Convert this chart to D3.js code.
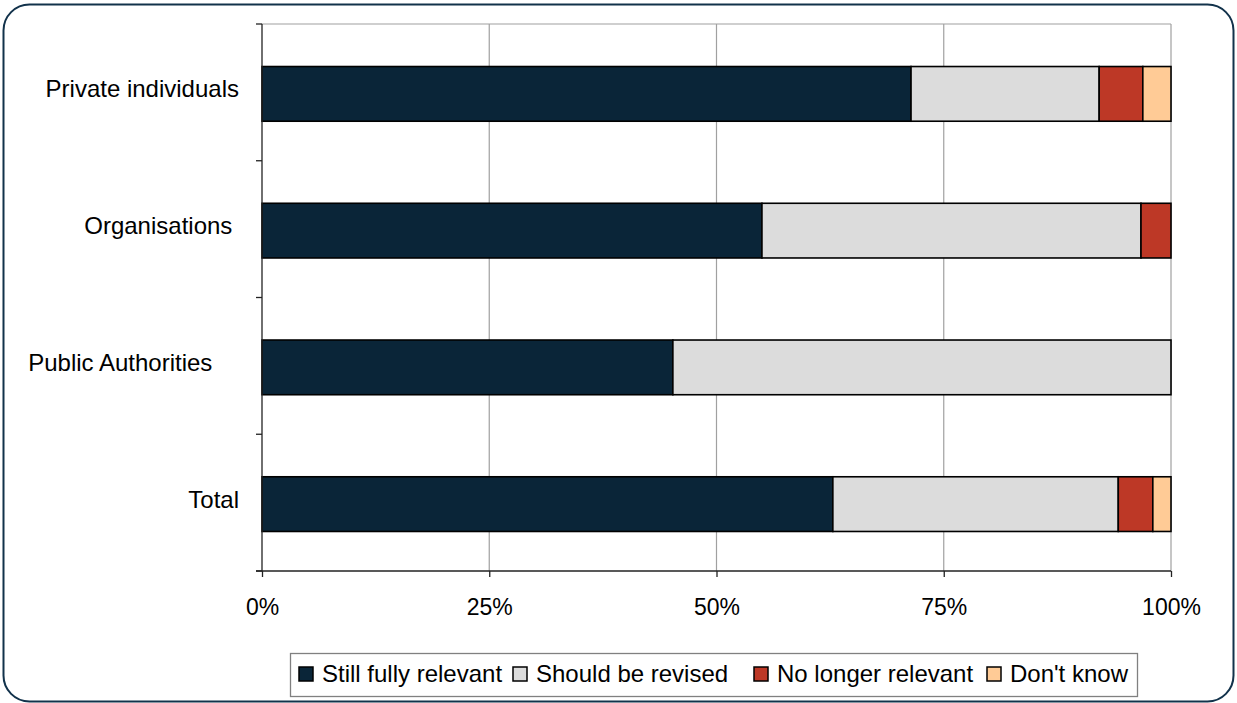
<!DOCTYPE html>
<html>
<head>
<meta charset="utf-8">
<script src="https://cdn.jsdelivr.net/npm/d3@7"></script>
<style>
  html, body { margin: 0; padding: 0; background: #fff; }
  text { font-family: "Liberation Sans", Arial, sans-serif; fill: #000; white-space: pre; }
</style>
</head>
<body>
<svg id="chart" width="1237" height="703"></svg>
<script>
// ---- data ----
const categories = ["Private individuals", "Organisations ", "Public Authorities    ", "Total"];
const seriesNames = ["Still fully relevant", "Should be revised", "No longer relevant", "Don't know"];
const stillFullyRelevant = [71.4, 55.0, 45.2, 62.8];
const shouldBeRevised    = [20.7, 41.7, 54.8, 31.4];
const noLongerRelevant   = [4.8, 3.3, 0.0, 3.8];
const dontKnow           = [3.1, 0.0, 0.0, 2.0];
const tickValues = [0, 25, 50, 75, 100];
const tickLabels = ["0%", "25%", "50%", "75%", "100%"];

// ---- styles / layout ----
const colors = ["#0a2538", "#dcdcdc", "#bd3826", "#ffcb96"];
const legendSwatchX = [299, 513, 754, 987];

const svg = d3.select("#chart");

// outer rounded frame
svg.append("rect")
  .attr("x", 3.5).attr("y", 4.5).attr("width", 1230).attr("height", 697)
  .attr("rx", 26).attr("ry", 26)
  .attr("fill", "#fff").attr("stroke", "#12324b").attr("stroke-width", 2);

const pLeft = 262, pRight = 1171, pTop = 24, pBottom = 571;

const x = d3.scaleLinear().domain([0, 100]).range([pLeft, pRight]);
const y = d3.scaleBand().domain(categories).range([pTop, pBottom])
  .paddingInner(0.6).paddingOuter(0.3);
const band = d3.scaleBand().domain(categories).range([pTop, pBottom]).padding(0);

// grid lines
svg.append("g").selectAll("line").data(tickValues.slice(1))
  .join("line")
  .attr("x1", d => x(d)).attr("x2", d => x(d))
  .attr("y1", pTop).attr("y2", pBottom)
  .attr("stroke", "#a0a0a0").attr("stroke-width", 1.2);
// top border
svg.append("line").attr("x1", pLeft).attr("x2", pRight).attr("y1", pTop).attr("y2", pTop)
  .attr("stroke", "#a0a0a0").attr("stroke-width", 1.2);

// stacked data
const rows = categories.map((c, i) => {
  const vals = [stillFullyRelevant[i], shouldBeRevised[i], noLongerRelevant[i], dontKnow[i]];
  let acc = 0;
  return vals.map((v, k) => { const s = acc; acc += v; return {cat: c, k, x0: s, x1: acc, v}; });
}).flat().filter(d => d.v > 0);

svg.append("g").selectAll("rect").data(rows).join("rect")
  .attr("x", d => x(d.x0))
  .attr("y", d => y(d.cat) + 1.5)
  .attr("width", d => x(d.x1) - x(d.x0))
  .attr("height", y.bandwidth())
  .attr("fill", d => colors[d.k])
  .attr("stroke", "#000").attr("stroke-width", 1.6);

// left axis
const yAxisG = svg.append("g");
yAxisG.append("line").attr("x1", pLeft).attr("x2", pLeft).attr("y1", pTop).attr("y2", pBottom)
  .attr("stroke", "#222").attr("stroke-width", 1.3);
const bounds = categories.map(c => band(c)).concat([pBottom]);
yAxisG.selectAll("line.t").data(bounds).join("line").attr("class", "t")
  .attr("x1", pLeft - 6).attr("x2", pLeft).attr("y1", d => d).attr("y2", d => d)
  .attr("stroke", "#222").attr("stroke-width", 1.3);
yAxisG.selectAll("text").data(categories).join("text")
  .attr("x", 239).attr("y", d => y(d) + y.bandwidth() / 2 + 5)
  .attr("text-anchor", "end").attr("font-size", 24)
  .text(d => d);

// bottom axis
const xAxis = d3.axisBottom(x).tickValues(tickValues)
  .tickFormat((d, i) => tickLabels[i]).tickSize(6).tickPadding(22);
const xg = svg.append("g").attr("transform", `translate(0,${pBottom})`).call(xAxis);
xg.select(".domain").attr("stroke", "#222").attr("stroke-width", 1.3)
  .attr("d", `M${pLeft - 6},0H${pRight}`);
xg.selectAll(".tick line").attr("stroke", "#222").attr("stroke-width", 1.3);
xg.selectAll(".tick text").attr("font-size", 23)
  .attr("font-family", "Liberation Sans, Arial, sans-serif").attr("fill", "#000");

// legend
const lg = svg.append("g");
lg.append("rect").attr("x", 290.5).attr("y", 653.5).attr("width", 847).attr("height", 43)
  .attr("fill", "#fff").attr("stroke", "#808080").attr("stroke-width", 1.3);
seriesNames.forEach((name, i) => {
  lg.append("rect").attr("x", legendSwatchX[i]).attr("y", 667).attr("width", 14).attr("height", 14)
    .attr("fill", colors[i]).attr("stroke", "#000").attr("stroke-width", 1.5);
  lg.append("text").attr("x", legendSwatchX[i] + 23).attr("y", 682)
    .attr("font-size", 24).text(name);
});
</script>
</body>
</html>
